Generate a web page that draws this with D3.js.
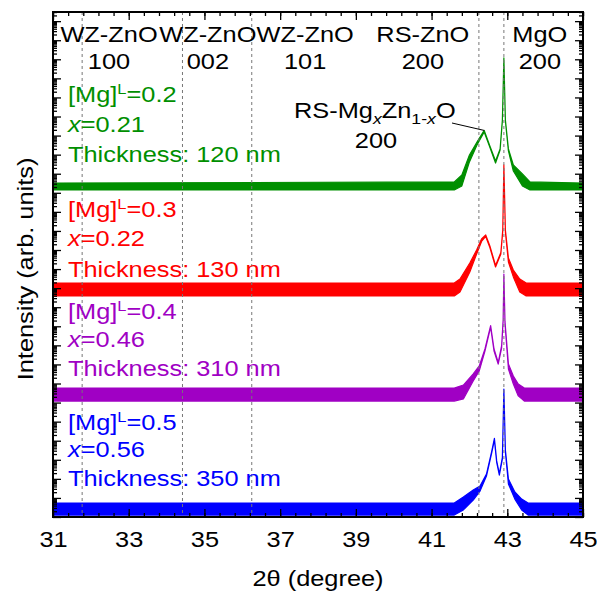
<!DOCTYPE html>
<html>
<head>
<meta charset="utf-8">
<script src="https://cdn.jsdelivr.net/npm/d3@7"></script>
<style>
  body { margin: 0; background: #fff; }
  text { font-family: "Liberation Sans", Arial, sans-serif; }
</style>
</head>
<body>
<svg width="597" height="592"></svg>
<script>
// XRD 2theta scans, intensity kept as log10 values (curves are stacked)
const xTicks = [31, 33, 35, 37, 39, 41, 43, 45];

const refAngle = [31.77, 34.42, 36.25, 42.25, 42.91];
const refName = ['WZ-ZnO', 'WZ-ZnO', 'WZ-ZnO', 'RS-ZnO', 'MgO'];
const refHkl = ['100', '002', '101', '200', '200'];
const refLabelAt = [32.48, 35.09, 37.66, 40.77, 43.86];

const greenAngle = [31, 41.6, 41.8, 42.0, 42.2, 42.39, 42.54, 42.69, 42.81, 42.87, 42.91, 42.95, 43.03, 43.16, 43.4, 43.6, 45];
const greenHi = [17.51, 17.57, 17.93, 18.98, 19.66, 20.27, 19.45, 18.67, 19.30, 20.82, 24.07, 20.82, 19.30, 18.46, 17.99, 17.57, 17.51];
const greenLo = [17.15, 17.15, 17.36, 18.62, 19.51, 20.19, 19.38, 18.56, 19.24, 20.77, 23.96, 20.77, 19.20, 18.14, 17.36, 17.15, 17.15];

const redAngle = [31, 41.6, 41.75, 42.01, 42.19, 42.32, 42.43, 42.54, 42.69, 42.83, 42.88, 42.91, 42.95, 43.03, 43.16, 43.33, 43.5, 45];
const redHi = [12.27, 12.27, 12.48, 13.32, 14.00, 14.58, 14.79, 14.21, 13.19, 13.87, 15.05, 18.46, 15.05, 13.58, 12.95, 12.48, 12.27, 12.27];
const redLo = [11.59, 11.59, 11.80, 12.85, 13.79, 14.45, 14.71, 14.13, 13.11, 13.79, 14.97, 18.35, 14.94, 13.37, 12.59, 11.80, 11.59, 11.59];

const purpleAngle = [31, 41.6, 41.84, 42.1, 42.26, 42.41, 42.56, 42.65, 42.76, 42.85, 42.89, 42.91, 42.94, 43.03, 43.16, 43.29, 43.45, 45];
const purpleHi = [6.76, 6.76, 6.92, 7.50, 7.92, 8.81, 10.04, 8.81, 8.10, 8.97, 10.33, 12.74, 10.23, 8.02, 7.39, 6.97, 6.76, 6.76];
const purpleLo = [6.08, 6.08, 6.19, 7.13, 7.66, 8.70, 9.96, 8.70, 8.02, 8.86, 10.25, 12.64, 10.12, 7.76, 6.97, 6.35, 6.08, 6.08];

const blueAngle = [31, 41.6, 41.84, 42.1, 42.28, 42.45, 42.59, 42.66, 42.72, 42.79, 42.87, 42.91, 42.95, 43.03, 43.2, 43.38, 43.55, 45];
const blueHi = [0.73, 0.73, 1.05, 1.42, 1.63, 2.25, 3.46, 4.12, 2.94, 2.28, 3.12, 6.71, 3.51, 1.99, 1.31, 0.94, 0.73, 0.73];
const blueLo = [0.10, 0.10, 0.37, 0.89, 1.36, 2.15, 3.38, 4.04, 2.86, 2.20, 3.04, 6.61, 3.41, 1.73, 0.94, 0.37, 0.10, 0.10];

const mgLiquid = ['0.2', '0.3', '0.4', '0.5'];
const mgFilm = ['0.21', '0.22', '0.46', '0.56'];
const thickness = [120, 130, 310, 350];

// layout
const colors = ['#008f00', '#ff0000', '#a000c4', '#0000ff'];
const textRows = [[102, 132, 162], [217, 246, 277], [319, 347, 376], [430, 457, 486]];
const FS = 21.5;
const SX = 1.18;

const series = [
  { angle: greenAngle, hi: greenHi, lo: greenLo },
  { angle: redAngle, hi: redHi, lo: redLo },
  { angle: purpleAngle, hi: purpleHi, lo: purpleLo },
  { angle: blueAngle, hi: blueHi, lo: blueLo },
];

const svg = d3.select('svg');
const plotL = 53, plotR = 583, plotT = 12, plotB = 517;

const x = d3.scaleLinear().domain([31, 45]).range([plotL, plotR]);
const y = d3.scaleLog().domain([1, 10 ** 26.48]).range([plotB, plotT]);

const txt = (parent, px, py, sx) => parent.append('text')
  .attr('transform', `translate(${px},${py}) scale(${sx},1)`)
  .style('font-size', `${FS}px`);

// curves: envelope of the noisy scans
const area = d3.area()
  .x((d) => x(d[0]))
  .y0((d) => y(10 ** d[2]))
  .y1((d) => y(10 ** d[1]));

const curves = svg.append('g');
series.forEach((s, i) => {
  const pts = s.angle.map((a, k) => [a, s.hi[k], s.lo[k]]);
  curves.append('path')
    .datum(pts)
    .attr('d', area)
    .attr('fill', colors[i])
    .attr('stroke', colors[i])
    .attr('stroke-width', 1.2)
    .attr('stroke-linejoin', 'round');
});

// reference positions
svg.append('g').selectAll('line')
  .data(refAngle)
  .join('line')
  .attr('x1', (d) => x(d))
  .attr('x2', (d) => x(d))
  .attr('y1', plotT)
  .attr('y2', plotB)
  .attr('stroke', '#777')
  .attr('stroke-width', 1)
  .attr('stroke-dasharray', '3,3');

const refs = svg.append('g');
refName.forEach((n, i) => {
  txt(refs, x(refLabelAt[i]), 41.5, SX).attr('text-anchor', 'middle').text(n);
  txt(refs, x(refLabelAt[i]), 68.5, SX).attr('text-anchor', 'middle').text(refHkl[i]);
});

// sample labels
const labels = svg.append('g');
mgLiquid.forEach((m, i) => {
  const rows = textRows[i];
  const t1 = txt(labels, 68, rows[0], SX).attr('fill', colors[i]);
  t1.append('tspan').text('[Mg]');
  t1.append('tspan').attr('dy', -8).style('font-size', '14px').text('L');
  t1.append('tspan').attr('dy', 8).text(`=${m}`);
  const t2 = txt(labels, 68, rows[1], SX).attr('fill', colors[i]);
  t2.append('tspan').style('font-style', 'italic').text('x');
  t2.append('tspan').text(`=${mgFilm[i]}`);
  txt(labels, 68, rows[2], SX).attr('fill', colors[i]).text(`Thickness: ${thickness[i]} nm`);
});

// film peak annotation
const ann = svg.append('g');
const a1 = txt(ann, 294, 118, SX);
a1.append('tspan').text('RS-Mg');
a1.append('tspan').attr('dy', 6).style('font-size', '15px').style('font-style', 'italic').text('x');
a1.append('tspan').attr('dy', -6).text('Zn');
a1.append('tspan').attr('dy', 6).style('font-size', '15px').text('1-');
a1.append('tspan').style('font-size', '15px').style('font-style', 'italic').text('x');
a1.append('tspan').attr('dy', -6).text('O');
txt(ann, 376, 148, SX).attr('text-anchor', 'middle').text('200');
const pk = greenHi.indexOf(d3.max(greenHi.slice(0, 8)));
ann.append('line')
  .attr('x1', 452).attr('y1', 123)
  .attr('x2', x(greenAngle[pk])).attr('y2', y(10 ** greenHi[pk]))
  .attr('stroke', '#000').attr('stroke-width', 1);

// axes
const xMinor = d3.range(31, 45.001, 0.4);
const yMajor = d3.range(0, 27).map((e) => 10 ** e);
const yMinor = [];
d3.range(0, 27).forEach((e) => {
  for (let m = 2; m <= 9; m++) {
    const v = m * 10 ** e;
    if (v < 10 ** 26.48) yMinor.push(v);
  }
});

const axes = svg.append('g');
const bottomAxis = axes.append('g')
  .attr('transform', `translate(0,${plotB})`)
  .call(d3.axisBottom(x).tickValues(xTicks).tickSize(-8).tickPadding(14.4));
bottomAxis.selectAll('text')
  .attr('transform', `scale(${SX},1)`)
  .style('font-size', `${FS}px`)
  .attr('fill', '#000');
axes.append('g')
  .attr('transform', `translate(0,${plotB})`)
  .call(d3.axisBottom(x).tickValues(xMinor).tickSize(-4).tickFormat(''));
axes.append('g')
  .attr('transform', `translate(0,${plotT})`)
  .call(d3.axisTop(x).tickValues(xTicks).tickSize(-8).tickFormat(''));
axes.append('g')
  .attr('transform', `translate(0,${plotT})`)
  .call(d3.axisTop(x).tickValues(xMinor).tickSize(-4).tickFormat(''));
axes.append('g')
  .attr('transform', `translate(${plotL},0)`)
  .call(d3.axisLeft(y).tickValues(yMajor).tickSize(-8).tickFormat(''));
axes.append('g')
  .attr('transform', `translate(${plotL},0)`)
  .call(d3.axisLeft(y).tickValues(yMinor).tickSize(-4).tickFormat(''));
axes.append('g')
  .attr('transform', `translate(${plotR},0)`)
  .call(d3.axisRight(y).tickValues(yMajor).tickSize(-8).tickFormat(''));
axes.append('g')
  .attr('transform', `translate(${plotR},0)`)
  .call(d3.axisRight(y).tickValues(yMinor).tickSize(-4).tickFormat(''));
axes.selectAll('.domain').remove();
axes.selectAll('.tick line').attr('stroke', '#000').attr('stroke-width', 1.3);

svg.append('rect')
  .attr('x', plotL).attr('y', plotT)
  .attr('width', plotR - plotL).attr('height', plotB - plotT)
  .attr('fill', 'none')
  .attr('stroke', '#000')
  .attr('stroke-width', 2);

// titles
txt(svg, (plotL + plotR) / 2, 586, SX).attr('text-anchor', 'middle').text('2θ (degree)');
svg.append('text')
  .attr('transform', 'translate(33,269) rotate(-90) scale(1.18,1)')
  .attr('text-anchor', 'middle')
  .style('font-size', `${FS}px`)
  .text('Intensity (arb. units)');
</script>
</body>
</html>
